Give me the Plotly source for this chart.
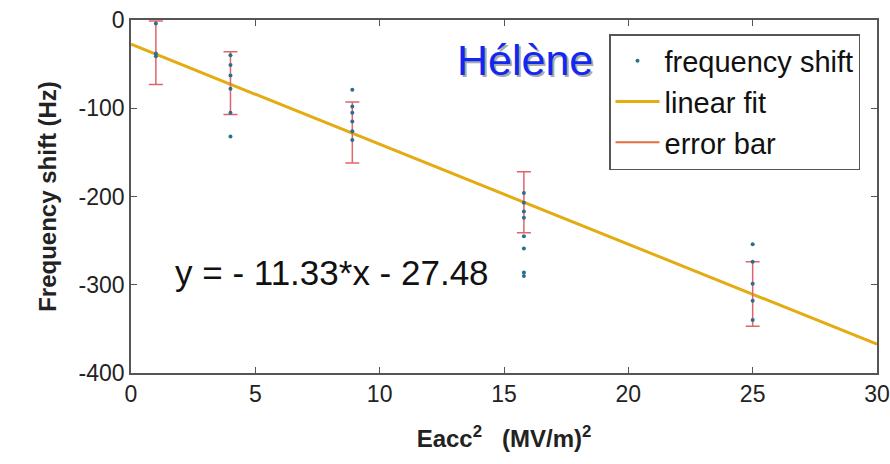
import plotly.graph_objects as go

# Data
pts_x = [1, 1, 1,
         4, 4, 4, 4, 4, 4,
         8.9, 8.9, 8.9, 8.9, 8.9, 8.9,
         15.8, 15.8, 15.8, 15.8, 15.8, 15.8, 15.8, 15.8,
         25, 25, 25, 25, 25]
pts_y = [-4, -38, -41,
         -40, -51, -63, -78, -105, -132,
         -79, -98, -105, -115, -126, -136,
         -196, -207, -217, -224, -245, -259, -286, -290,
         -254, -274, -299, -318, -340]

eb_x = [1, 4, 8.9, 15.8, 25]
eb_center = [-37, -71.5, -127.5, -206.5, -310.5]
eb_half = [36, 35.5, 34.5, 34.5, 36.5]

slope = -11.33
intercept = -27.48
fit_x = [0, 30]
fit_y = [slope * v + intercept for v in fit_x]

x_ticks = [0, 5, 10, 15, 20, 25, 30]
y_ticks = [0, -100, -200, -300, -400]
y_tick_text = ["0", "-100", "-200", "-300", "-400"]

FONT = "Liberation Sans, Arial, sans-serif"

fig = go.Figure()

fig.add_trace(go.Scatter(
    x=fit_x, y=fit_y, mode="lines", name="linear fit",
    line=dict(color="#E3AC12", width=3), showlegend=False))

fig.add_trace(go.Scatter(
    x=eb_x, y=eb_center, mode="markers", showlegend=False,
    marker=dict(size=1, color="rgba(0,0,0,0)"),
    error_y=dict(type="data", array=eb_half, visible=True,
                 color="#E0656A", thickness=1.5, width=7)))

fig.add_trace(go.Scatter(
    x=pts_x, y=pts_y, mode="markers", name="frequency shift",
    marker=dict(size=4, color="#2A6F8F")))

fig.add_trace(go.Scatter(
    x=[None], y=[None], mode="lines", name="linear fit",
    line=dict(color="#E3AC12", width=3)))
fig.add_trace(go.Scatter(
    x=[None], y=[None], mode="lines", name="error bar",
    line=dict(color="#E07040", width=2)))

axis_common = dict(
    showgrid=False, zeroline=False, showline=True, linecolor="#555555",
    linewidth=1.5, mirror="ticks", ticks="inside", ticklen=6,
    tickcolor="#555555", automargin=False,
    tickfont=dict(family=FONT, size=23, color="#222222"))

fig.update_xaxes(range=[0, 30], tickvals=x_ticks, **axis_common,
                 title=dict(text="<b>Eacc<sup>2</sup>   (MV/m)<sup>2</sup></b>",
                            font=dict(family=FONT, size=24, color="#222222"),
                            standoff=24))
fig.update_yaxes(range=[-400, 0], tickvals=y_ticks, ticktext=y_tick_text,
                 **axis_common,
                 title=dict(text="<b>Frequency shift (Hz)</b>",
                            font=dict(family=FONT, size=24, color="#222222"),
                            standoff=15))

hx = (525 - 131) / 746
hy = 1 - (60 - 20) / 353
fig.add_annotation(text="Hélène", xref="paper", yref="paper",
                   x=hx + 0.003, y=hy - 0.006, xanchor="center", yanchor="middle",
                   showarrow=False,
                   font=dict(family=FONT, size=43, color="#AAAAAA"))
fig.add_annotation(text="Hélène", xref="paper", yref="paper",
                   x=hx, y=hy, xanchor="center", yanchor="middle",
                   showarrow=False,
                   font=dict(family=FONT, size=43, color="#1028F0"))
fig.add_annotation(text="y = - 11.33*x - 27.48", xref="paper", yref="paper",
                   x=(332 - 131) / 746, y=1 - (272 - 20) / 353,
                   xanchor="center", yanchor="middle",
                   showarrow=False,
                   font=dict(family=FONT, size=35, color="#111111"))

fig.update_layout(
    width=890, height=464,
    margin=dict(l=131, r=13, t=20, b=91),
    paper_bgcolor="white", plot_bgcolor="white",
    legend=dict(x=(609 - 131) / 746, y=1 - (34 - 20) / 353,
                xanchor="left", yanchor="top",
                bordercolor="#555555", borderwidth=1.5, bgcolor="white",
                font=dict(family=FONT, size=29, color="#111111"),
                itemwidth=44),
)

fig.write_html("out.html")
